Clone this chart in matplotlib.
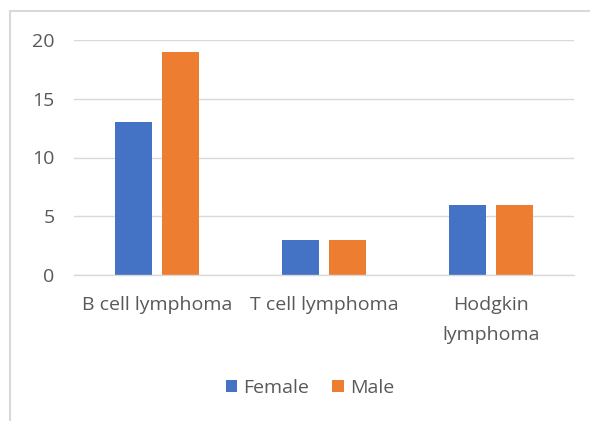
import numpy as np
import matplotlib.pyplot as plt
from matplotlib.patches import Rectangle

categories = ["B cell lymphoma", "T cell lymphoma", "Hodgkin\nlymphoma"]
female = [13, 3, 6]
male = [19, 3, 6]
yticks = [0, 5, 10, 15, 20]

plt.rcParams['font.family'] = ['Open Sans', 'DejaVu Sans']
txt = '#595959'

fig = plt.figure(figsize=(5.9, 4.21), dpi=100)
# outer chart frame
fig.patches.append(Rectangle((10/590, -0.05), 1.0, 1 - 11/421 + 0.05,
                             transform=fig.transFigure, fill=False,
                             edgecolor='#d9d9d9', linewidth=1.5))

ax = fig.add_axes([74/590, 1 - 275/421, 500/590, (275 - 40)/421])
x = np.arange(len(categories))
w = 0.222
ax.bar(x - 0.142, female, w, color='#4472c4', label='Female')
ax.bar(x + 0.142, male, w, color='#ed7d31', label='Male')

ax.set_xlim(-0.5, 2.5)
ax.set_ylim(0, 20)
ax.set_yticks(yticks)
ax.yaxis.grid(True, color='#d9d9d9', linewidth=1)
ax.set_axisbelow(True)
for s in ['top', 'right', 'left']:
    ax.spines[s].set_visible(False)
ax.spines['bottom'].set_color('#d9d9d9')
ax.spines['bottom'].set_linewidth(1)
ax.tick_params(axis='both', length=0, labelsize=14, labelcolor=txt)
ax.tick_params(axis='y', pad=14)
ax.set_xticks(x)
ax.set_xticklabels(categories, va='top', linespacing=1.9)
ax.tick_params(axis='x', pad=15)

fig.legend(loc='center', bbox_to_anchor=(0.525, 1 - 388/421), ncol=2,
           frameon=False, fontsize=14, labelcolor=txt, handlelength=0.6,
           handleheight=0.6, handletextpad=0.3, columnspacing=1.2)

fig.savefig('out.png', dpi=100)
